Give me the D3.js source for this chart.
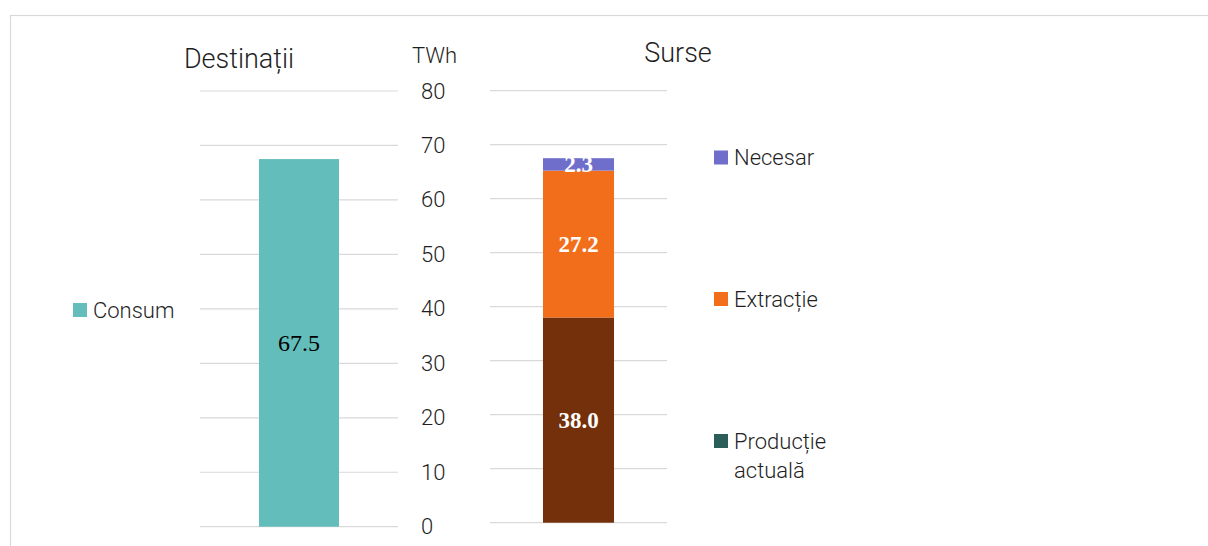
<!DOCTYPE html>
<html lang="ro">
<head>
<meta charset="UTF-8">
<script src="https://d3js.org/d3.v7.min.js"></script>
<style>
  body { margin: 0; background: #fff; }
  svg text { font-family: Roboto, "Liberation Sans", Arial, sans-serif; font-weight: 300; fill: #1f1f1f; }
  .grid line { stroke: #d9d9d9; stroke-width: 1.2; }
  svg text.barlabel { font-family: "Liberation Serif", "Times New Roman", serif; }
</style>
</head>
<body>
<svg id="chart"></svg>
<script>
// data
const destCategories = ["Consum"];
const destValues = [67.5];
const sourceSeries = ["Producție actuală", "Extracție", "Necesar"];
const sourceValues = [38.0, 27.2, 2.3];
const tickValues = [0, 10, 20, 30, 40, 50, 60, 70, 80];

const destColor = "#63bdba";
const sourceColors = ["#73300a", "#f26e1b", "#6f6fcb"];
const legendColors = ["#2b5d59", "#f26e1b", "#6f6fcb"];

const W = 1208, H = 546;
const svg = d3.select("#chart").attr("width", W).attr("height", H);

// outer frame
svg.append("rect")
  .attr("x", 10.5).attr("y", 15.5)
  .attr("width", 1220).attr("height", 560)
  .attr("fill", "none").attr("stroke", "#d9d9d9").attr("stroke-width", 1.2);

// scales
const yLeft = d3.scaleLinear().domain([0, 80]).range([526.7, 91]);
const yRight = d3.scaleLinear().domain([0, 80]).range([522.7, 90.7]);

const xLeft = d3.scaleBand().domain(destCategories).range([200, 398]).paddingOuter(0.7375);
const xRight = d3.scaleBand().domain(["Surse"]).range([490, 667]).paddingOuter(0.746);

// gridlines
svg.append("g").attr("class", "grid")
  .selectAll("line").data(tickValues).enter().append("line")
  .attr("x1", 200).attr("x2", 398)
  .attr("y1", d => yLeft(d)).attr("y2", d => yLeft(d));

svg.append("g").attr("class", "grid")
  .selectAll("line").data(tickValues).enter().append("line")
  .attr("x1", 490).attr("x2", 667)
  .attr("y1", d => yRight(d)).attr("y2", d => yRight(d));

// value axis in the middle
const axis = svg.append("g")
  .attr("transform", "translate(421,0)")
  .call(d3.axisRight(yLeft).tickValues(tickValues).tickSize(0).tickPadding(0));
axis.select(".domain").remove();
axis.selectAll("text")
  .attr("font-size", 22)
  .style("font-family", "Roboto, 'Liberation Sans', Arial, sans-serif")
  .style("font-weight", 300)
  .style("fill", "#1f1f1f");

// titles
svg.append("text").attr("x", 239).attr("y", 68)
  .attr("text-anchor", "middle").attr("font-size", 27).text("Destinații");
svg.append("text").attr("x", 678).attr("y", 62)
  .attr("text-anchor", "middle").attr("font-size", 27).text("Surse");
svg.append("text").attr("x", 412).attr("y", 63)
  .attr("font-size", 22).text("TWh");

// left bar
svg.selectAll(".destbar").data(destValues).enter().append("rect")
  .attr("class", "destbar")
  .attr("x", (d, i) => xLeft(destCategories[i]))
  .attr("width", xLeft.bandwidth())
  .attr("y", d => yLeft(d))
  .attr("height", d => yLeft(0) - yLeft(d))
  .attr("fill", destColor);

svg.selectAll(".destlabel").data(destValues).enter().append("text")
  .attr("class", "barlabel")
  .attr("x", (d, i) => xLeft(destCategories[i]) + xLeft.bandwidth() / 2)
  .attr("y", d => (yLeft(d) + yLeft(0)) / 2)
  .attr("dy", "0.35em")
  .attr("text-anchor", "middle")
  .attr("font-size", 24)
  .style("font-weight", 400)
  .style("fill", "#000")
  .text(d => d.toFixed(1));

// stacked right bar
let acc = 0;
const stacked = sourceValues.map((v, i) => {
  const s = { name: sourceSeries[i], y0: acc, y1: acc + v, value: v, color: sourceColors[i] };
  acc += v;
  return s;
});

svg.selectAll(".srcbar").data(stacked).enter().append("rect")
  .attr("class", "srcbar")
  .attr("x", xRight("Surse"))
  .attr("width", xRight.bandwidth())
  .attr("y", d => yRight(d.y1))
  .attr("height", d => yRight(d.y0) - yRight(d.y1))
  .attr("fill", d => d.color);

svg.selectAll(".srclabel").data(stacked).enter().append("text")
  .attr("class", "barlabel")
  .attr("x", xRight("Surse") + xRight.bandwidth() / 2)
  .attr("y", d => (yRight(d.y0) + yRight(d.y1)) / 2)
  .attr("dy", "0.35em")
  .attr("text-anchor", "middle")
  .attr("font-size", 23)
  .style("font-weight", 700)
  .style("fill", "#fff")
  .text(d => d.value.toFixed(1));

// legends
const leftLegend = svg.append("g").attr("transform", "translate(73,310)");
leftLegend.append("rect").attr("x", 0).attr("y", -7).attr("width", 14).attr("height", 14).attr("fill", destColor);
leftLegend.append("text").attr("x", 20).attr("y", 0).attr("dy", "0.35em")
  .attr("font-size", 22).text(destCategories[0]);

const legendY = [441, 299, 157.5];
const legendLines = [["Producție", "actuală"], ["Extracție"], ["Necesar"]];
sourceSeries.forEach((name, i) => {
  const g = svg.append("g").attr("transform", `translate(714,${legendY[i]})`);
  g.append("rect").attr("x", 0).attr("y", -7).attr("width", 14).attr("height", 14).attr("fill", legendColors[i]);
  legendLines[i].forEach((line, j) => {
    g.append("text").attr("x", 20).attr("y", j * 29).attr("dy", "0.35em")
      .attr("font-size", 22).text(line);
  });
});
</script>
</body>
</html>
